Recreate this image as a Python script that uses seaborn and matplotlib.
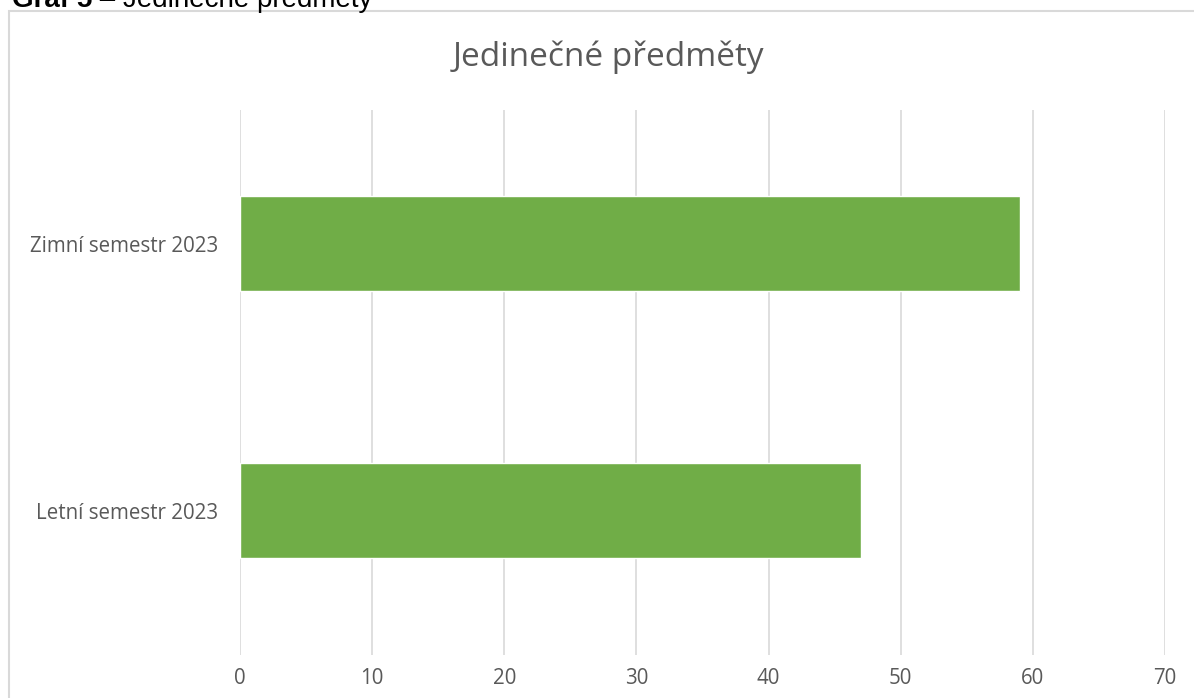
import matplotlib
matplotlib.use("Agg")
import matplotlib.pyplot as plt
import seaborn as sns
import pandas as pd
from matplotlib.patches import Rectangle

semestry = ["Zimní semestr 2023", "Letní semestr 2023"]
predmety = [59, 47]
x_ticks = [0, 10, 20, 30, 40, 50, 60, 70]

data = pd.DataFrame({"semestr": semestry, "pocet": predmety})

sns.set_style("white")
plt.rcParams['font.family'] = ['Open Sans', 'DejaVu Sans']

fig = plt.figure(figsize=(11.94, 6.98), dpi=100)
W, H = 1194, 698

# chart border (cut off at right and bottom)
fig.patches.append(Rectangle((9 / W, -0.05), 1.1, 1 - 11 / H + 0.05, transform=fig.transFigure,
                             fill=False, edgecolor="#d9d9d9", linewidth=1.5))

# caption above the chart, only its lower part is visible
cap1 = fig.text(12 / W, 1 - 7 / H, "Graf 5", fontsize=20, fontweight="bold",
                family="Liberation Sans", va="baseline", ha="left", color="black")
fig.canvas.draw()
bb = cap1.get_window_extent()
fig.text(bb.x1 / W, 1 - 7 / H, " – Jedinečné předměty", fontsize=20,
         family="Liberation Sans", va="baseline", ha="left", color="black")

ax = fig.add_axes([240 / W, 1 - 655 / H, (1165 - 240) / W, (655 - 110) / H])
sns.barplot(data=data, y="semestr", x="pocet", orient="h", color="#70AD47",
            saturation=1, width=0.355, ax=ax)

ax.set_xlim(0, 70)
ax.set_ylim(1.54, -0.5)
ax.set_xticks(x_ticks)
ax.xaxis.grid(True, color="#d9d9d9", linewidth=1.2)
ax.set_axisbelow(True)
for s in ax.spines.values():
    s.set_visible(False)
ax.set_xlabel("")
ax.set_ylabel("")
ax.tick_params(axis="both", length=0, labelsize=14.8, labelcolor="#595959")
ax.tick_params(axis="x", pad=9)
ax.tick_params(axis="y", pad=16)

fig.text(608 / W, 1 - 57 / H, "Jedinečné předměty", fontsize=24, color="#595959",
         ha="center", va="center")

fig.savefig("out.png", dpi=100)
